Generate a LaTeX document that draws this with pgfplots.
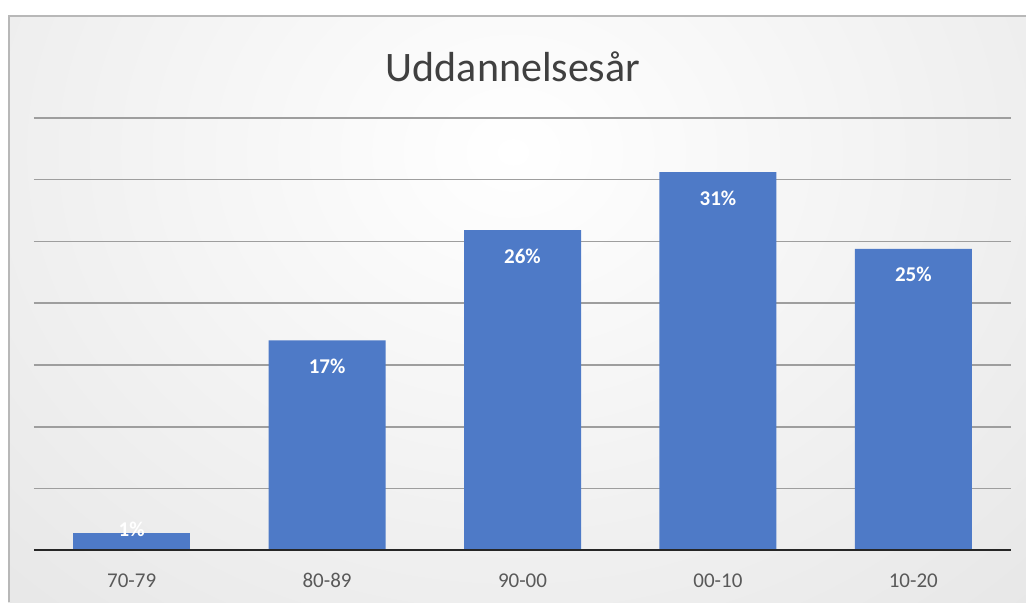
\documentclass[border=0pt]{standalone}
\usepackage{fontspec}
\setmainfont{Carlito}
\usepackage{pgfplots}
\pgfplotsset{compat=1.18}

\definecolor{barblue}{HTML}{4E7AC7}
\definecolor{titlegray}{HTML}{404040}
\definecolor{ticklabelgray}{HTML}{595959}

\begin{document}
\begin{tikzpicture}
% page: 1026x602 px at 0.5pt per px
\useasboundingbox (0pt,0pt) rectangle (513pt,301pt);
\fill[white] (0pt,0pt) rectangle (513pt,301pt);
\begin{scope}
  \clip (4pt,0pt) rectangle (513pt,293.5pt);
  \shade[inner color=white, outer color=black!15] (-343.5pt,-275pt) rectangle (856.5pt,725pt);
\end{scope}
\draw[black!28, line width=1pt] (4.5pt,0pt) -- (4.5pt,293pt) -- (513pt,293pt);

\node[text=titlegray, font=\fontsize{21}{25}\selectfont] at (256.5pt,267.5pt) {Uddannelsesår};

\begin{axis}[
    at={(17pt,25.75pt)}, anchor=south west,
    scale only axis,
    width=488.5pt, height=216.4pt,
    xmin=-0.5, xmax=4.5,
    ymin=0, ymax=35,
    ybar, bar width=58.5pt,
    axis line style={draw=none},
    major tick length=0pt,
    xtick={0,1,2,3,4},
    xticklabels={70-79,80-89,90-00,00-10,10-20},
    xticklabel style={anchor=center, yshift=-15pt, text=ticklabelgray,
        font=\fontsize{10.5}{12}\selectfont},
    ytick={5,10,15,20,25,30,35},
    yticklabels={},
    ymajorgrids,
    grid style={black!38, line width=0.8pt},
    point meta=explicit symbolic,
    nodes near coords,
    every node near coord/.append style={anchor=center, text=white,
        font=\bfseries\fontsize{10.5}{12}\selectfont},
]
\addplot[fill=barblue, draw=none, bar shift=0pt,
    every node near coord/.append style={yshift=-13pt}]
    coordinates {(1,17.0)[17\%] (2,25.9)[26\%] (3,30.6)[31\%] (4,24.4)[25\%]};
\addplot[fill=barblue, draw=none, bar shift=0pt,
    every node near coord/.append style={yshift=2pt}]
    coordinates {(0,1.4)[1\%]};
\draw[black!85, line width=1.75pt] (axis cs:-0.5,0) -- (axis cs:4.5,0);
\end{axis}
\end{tikzpicture}
\end{document}
